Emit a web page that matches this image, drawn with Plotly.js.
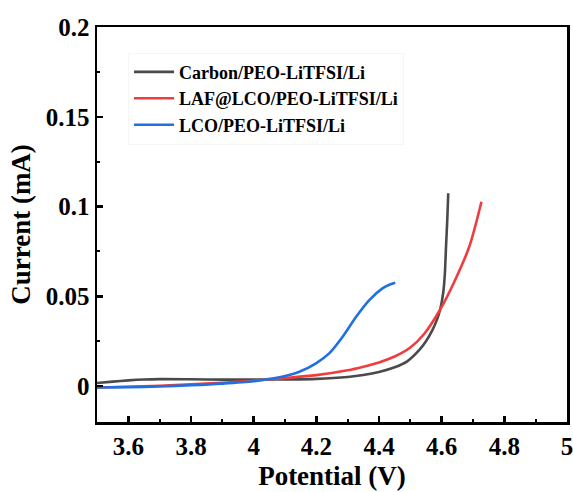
<!DOCTYPE html>
<html><head><meta charset="utf-8">
<script src="https://cdn.plot.ly/plotly-3.0.1.min.js"></script>
<style>body{margin:0;background:#fff}#chart{width:573px;height:492px}</style>
</head><body><div id="chart"></div>
<script>
const carbonX = [3.5,3.55,3.6,3.65,3.7,3.8,3.9,4.0,4.1,4.2,4.3,4.35,4.4,4.45,4.49,4.528,4.55,4.57,4.585,4.595,4.605,4.61,4.614,4.618,4.621];
const carbonY = [0.0017,0.0025,0.0032,0.0037,0.0039,0.0038,0.0036,0.0036,0.0037,0.0040,0.0051,0.0062,0.0079,0.0105,0.0138,0.020,0.025,0.031,0.037,0.0425,0.052,0.062,0.078,0.093,0.1074];
const lafX = [3.5,3.6,3.7,3.8,3.9,4.0,4.09,4.2,4.3,4.35,4.4,4.45,4.5,4.544,4.598,4.64,4.688,4.727];
const lafY = [-0.0008,-0.0004,0.0002,0.001,0.0019,0.003,0.0043,0.0061,0.0088,0.0108,0.0132,0.0165,0.0215,0.029,0.0435,0.058,0.0776,0.1027];
const lcoX = [3.5,3.6,3.7,3.8,3.9,4.0,4.04,4.09,4.146,4.199,4.241,4.284,4.327,4.369,4.411,4.435,4.452];
const lcoY = [-0.0008,-0.0006,-0.0002,0.0005,0.0014,0.0027,0.0037,0.0052,0.008,0.0127,0.0182,0.0275,0.0386,0.0479,0.0544,0.0566,0.0575];
const names = ["Carbon/PEO-LiTFSI/Li","LAF@LCO/PEO-LiTFSI/Li","LCO/PEO-LiTFSI/Li"];
const font = "Liberation Serif";
const traces = [
  {x:carbonX,y:carbonY,name:names[0],mode:"lines",line:{color:"#4a4a4a",width:2.6,shape:"spline",smoothing:0.8}},
  {x:lafX,y:lafY,name:names[1],mode:"lines",line:{color:"#f03c3c",width:2.6,shape:"spline",smoothing:0.8}},
  {x:lcoX,y:lcoY,name:names[2],mode:"lines",line:{color:"#2070e0",width:2.6,shape:"spline",smoothing:0.8}}
];
const ax = {
  showline:true, linecolor:"#000", linewidth:2.5, mirror:true, showgrid:false, zeroline:false,
  ticks:"inside", ticklen:6, tickwidth:2.5, tickcolor:"#000", ticklabeloverflow:"allow",
  tickfont:{family:font,size:25,color:"#000",weight:"bold"}
};
const layout = {
  width:573, height:492, margin:{l:97,r:6,t:27,b:70},
  paper_bgcolor:"#fff", plot_bgcolor:"#fff",
  font:{family:font,color:"#000"},
  xaxis:Object.assign({}, ax, {range:[3.5,5], tick0:3.6, dtick:0.2,
    minor:{dtick:0.1, ticks:"inside", ticklen:3, tickwidth:2, tickcolor:"#000"},
    title:{text:"<b>Potential (V)</b>", font:{family:font,size:27,color:"#000"}, standoff:8}}),
  yaxis:Object.assign({}, ax, {range:[-0.02,0.2], tick0:0, dtick:0.05,
    minor:{dtick:0.025, ticks:"inside", ticklen:3, tickwidth:2, tickcolor:"#000"},
    title:{text:"<b>Current (mA)</b>", font:{family:font,size:27,color:"#000"}, standoff:8}}),
  legend:{x:0.066, y:0.935, xanchor:"left", yanchor:"top", bgcolor:"rgba(255,255,255,1)",
    bordercolor:"#f6f6f6", borderwidth:1, itemwidth:40,
    font:{family:font,size:18,color:"#000",weight:"bold"}},
  showlegend:true
};
Plotly.newPlot("chart", traces, layout, {staticPlot:true});
</script></body></html>
